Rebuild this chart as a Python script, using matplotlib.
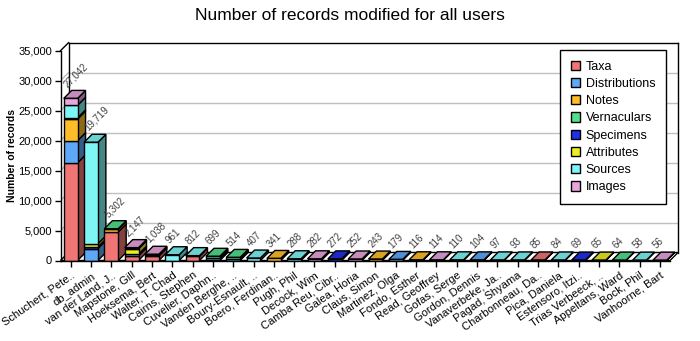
import matplotlib
matplotlib.use("Agg")
import matplotlib.pyplot as plt
from matplotlib.patches import Polygon, Patch
from matplotlib.ticker import FuncFormatter
import numpy as np

plt.rcParams['font.family'] = ['Liberation Sans', 'DejaVu Sans']

users = [
    "Schuchert, Pete..", "db_admin", "van der Land, J..", "Mapstone, Gill",
    "Hoeksema, Bert", "Walter, T. Chad", "Cairns, Stephen", "Cuvelier, Daphn..",
    "Vanden Berghe, ..", "Boury-Esnault, ..", "Boero, Ferdinan..", "Pugh, Phil",
    "Decock, Wim", "Camba Reu, Cibr..", "Galea, Horia", "Claus, Simon",
    "Martinez, Olga", "Fondo, Esther", "Read, Geoffrey", "Gofas, Serge",
    "Gordon, Dennis", "Vanaverbeke, Ja..", "Pagad, Shyama", "Charbonneau, Da..",
    "Pica, Daniela", "Estensoro, Itzi..", "Trias Verbeeck, ..", "Appeltans, Ward",
    "Bock, Phil", "Vanhoorne, Bart",
]

#              0      1     2     3    4    5    6    7    8    9   10   11   12   13   14   15   16   17   18   19   20  21  22  23  24  25  26  27  28  29
taxa =         [16300, 0,    4750, 800, 750, 0,   700, 150, 0,   0,   0,   0,   0,   0,   0,   0,   0,   0,   0,   0,   0,  0,  0,  85, 0,  0,  0,  0,  0,  0]
distributions = [3700, 2000, 0,    250, 0,   0,   0,   250, 300, 0,   0,   0,   0,   0,   0,   0,   179, 0,   0,   0,   104, 0,  0,  0,  0,  0,  0,  0,  0,  0]
notes =        [3600,  0,    450,  0,   0,   0,   0,   0,   0,   0,   341, 0,   0,   0,   0,   243, 0,   116, 0,   0,   0,  0,  0,  0,  0,  0,  0,  0,  0,  0]
vernaculars =  [0,     0,    102,  0,   0,   0,   0,   299, 214, 0,   0,   0,   0,   0,   0,   0,   0,   0,   0,   0,   0,  0,  0,  0,  0,  0,  0,  64, 0,  0]
specimens =    [0,     250,  0,    0,   0,   0,   0,   0,   0,   0,   0,   0,   0,   272, 0,   0,   0,   0,   0,   0,   0,  0,  0,  0,  0,  69, 0,  0,  0,  0]
attributes =   [200,   550,  0,    900, 0,   0,   0,   0,   0,   0,   0,   0,   0,   0,   0,   0,   0,   0,   0,   0,   0,  0,  0,  0,  0,  0,  65, 0,  0,  0]
sources =      [2100, 16919, 0,    0,   100, 961, 112, 0,   0,   407, 0,   288, 0,   0,   0,   0,   0,   0,   0,   110, 0,  97, 93, 0,  84, 0,  0,  0,  58, 0]
images =       [1142,  0,    0,    197, 188, 0,   0,   0,   0,   0,   0,   0,   282, 0,   252, 0,   0,   0,   114, 0,   0,  0,  0,  0,  0,  0,  0,  0,  0,  56]

series_names = ["Taxa", "Distributions", "Notes", "Vernaculars",
                "Specimens", "Attributes", "Sources", "Images"]
series_colors = ["#f07676", "#5ea8f8", "#ffbe28", "#52e08c",
                 "#2030e8", "#eeee22", "#7ef6f6", "#e8a6dc"]
series = [taxa, distributions, notes, vernaculars, specimens, attributes, sources, images]


def shade(color, f):
    rgb = np.array(matplotlib.colors.to_rgb(color)) * f
    return tuple(np.clip(rgb, 0, 1))


W, H = 700, 341
fig = plt.figure(figsize=(W / 100, H / 100), dpi=100)

# plot box in pixels: front axis at x=60.5, back wall right edge at 678
left_px, right_px = 60.5, 678.0
bottom_px, top_px = 260.5, 42.7
ax = fig.add_axes([left_px / W, 1 - bottom_px / H,
                   (right_px - left_px) / W, (bottom_px - top_px) / H])

ymax = 35000
depth_px = 8.0
n = len(users)
DX = depth_px * (n + 0.0) / (right_px - left_px - depth_px)
DY = depth_px * ymax / (bottom_px - top_px - depth_px)
ax.set_xlim(-0.5, n - 0.5 + DX)
ax.set_ylim(0, ymax + DY)

grid_c = "#c0c0c0"
x0, x1 = -0.5, n - 0.5
# back wall grid and left wall diagonals
for v in range(5000, ymax, 5000):
    ax.plot([x0 + DX, x1 + DX], [v + DY] * 2, color=grid_c, lw=1, zorder=1)
    ax.plot([x0, x0 + DX], [v, v + DY], color=grid_c, lw=1, zorder=1)

# box frame
frame_kw = dict(color="black", lw=1, zorder=2, clip_on=False)
ax.plot([x0 + DX, x1 + DX], [ymax + DY] * 2, **frame_kw)
ax.plot([x0 + DX, x0 + DX], [DY, ymax + DY], **frame_kw)
ax.plot([x1 + DX, x1 + DX], [DY, ymax + DY], **frame_kw)
ax.plot([x0, x0 + DX], [ymax, ymax + DY], **frame_kw)

# floor
ax.add_patch(Polygon([(x0, 0), (x1, 0), (x1 + DX, DY), (x0 + DX, DY)],
                     closed=True, facecolor="white", edgecolor="black",
                     lw=1, zorder=2, clip_on=False))

bw = 0.68
totals = np.sum(np.array(series), axis=0)
for i in range(n):
    bottom = 0
    segs = [(vals[i], c) for vals, c in zip(series, series_colors) if vals[i] > 0]
    for k, (v, c) in enumerate(segs):
        xl, xr = i - bw / 2, i + bw / 2
        top = bottom + v
        z = 3 + i * 0.01
        ax.bar(i, v, width=bw, bottom=bottom, color=c, edgecolor="black",
               linewidth=1, zorder=z + 0.002)
        ax.add_patch(Polygon([(xr, bottom), (xr + DX, bottom + DY),
                              (xr + DX, top + DY), (xr, top)],
                             closed=True, facecolor=shade(c, 0.55),
                             edgecolor="black", lw=1, zorder=z))
        if k == len(segs) - 1:
            ax.add_patch(Polygon([(xl, top), (xr, top), (xr + DX, top + DY),
                                  (xl + DX, top + DY)],
                                 closed=True, facecolor=shade(c, 0.85),
                                 edgecolor="black", lw=1, zorder=z + 0.001))
        bottom = top
    ax.text(i - 0.08, totals[i] + DY + 250, f"{totals[i]:,}", rotation=45,
            rotation_mode="anchor", ha="left", va="bottom",
            fontsize=7, color="#404040", zorder=10)

for s in ["top", "right"]:
    ax.spines[s].set_visible(False)
ax.spines["left"].set_bounds(0, ymax)
ax.spines["bottom"].set_bounds(x0, x1)
for s in ["left", "bottom"]:
    ax.spines[s].set_zorder(20)
    ax.spines[s].set_linewidth(1)

ax.set_yticks(range(0, ymax + 1, 5000))
ax.yaxis.set_major_formatter(FuncFormatter(lambda v, p: f"{int(v):,}"))
ax.set_xticks(range(n))
ax.set_xticklabels(users, rotation=35, ha="right", rotation_mode="anchor",
                   fontsize=8)
ax.tick_params(axis="y", labelsize=8, length=4, width=1, pad=2)
ax.tick_params(axis="x", length=4, width=1, pad=3)

fig.text(12 / W, 1 - 155 / H, "Number of records", rotation=90,
         ha="center", va="center", fontsize=7.5, fontweight="bold")
fig.text(0.5, 1 - 15 / H, "Number of records modified for all users",
         ha="center", va="center", fontsize=12.5)

handles = [Patch(facecolor=c, edgecolor="black", lw=1) for c in series_colors]
leg = fig.legend(handles, series_names, loc="upper left",
                 bbox_to_anchor=(560 / W, 1 - 50 / H), fontsize=9,
                 frameon=True, fancybox=False, framealpha=1,
                 edgecolor="black", borderpad=0.85, borderaxespad=0,
                 labelspacing=0.42, handlelength=0.75, handleheight=0.75,
                 handletextpad=0.45)
leg.get_frame().set_linewidth(1)

fig.savefig("out.png", dpi=100)
